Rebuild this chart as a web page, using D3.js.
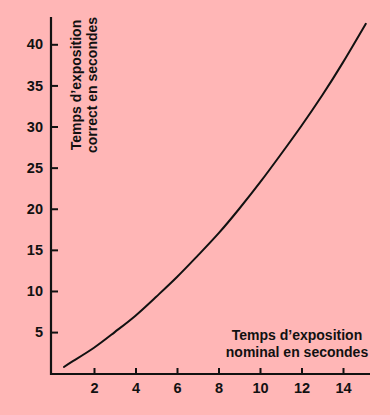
<!DOCTYPE html>
<html>
<head>
<meta charset="utf-8">
<script src="https://cdn.jsdelivr.net/npm/d3@7"></script>
<style>
  html, body { margin: 0; padding: 0; background: #ffb6b6; }
  svg { display: block; }
  text { font-family: "Liberation Sans", Arial, sans-serif; font-weight: bold; fill: #111; }
</style>
</head>
<body>
<svg id="chart" width="390" height="415"></svg>
<script>
const nominal = [0.55, 1, 2, 3, 4, 5, 6, 7, 8, 9, 10, 11, 12, 13, 14, 15.1];
const correct = [0.75, 1.5, 3.1, 5.0, 7.0, 9.3, 11.7, 14.3, 17.0, 20.0, 23.2, 26.6, 30.1, 33.8, 37.8, 42.5];
const xTicks = [2, 4, 6, 8, 10, 12, 14];
const yTicks = [5, 10, 15, 20, 25, 30, 35, 40];
const xTitle = ["Temps d\u2019exposition", "nominal en secondes"];
const yTitle = ["Temps d\u2019exposition", "correct en secondes"];

const svg = d3.select("#chart");
svg.append("rect").attr("width", 390).attr("height", 415).attr("fill", "#ffb6b6");

const x = d3.scaleLinear().domain([0, 14]).range([52.5, 343]);
const y = d3.scaleLinear().domain([0, 40]).range([373.2, 44.3]);

const axisX = 51, axisY = 374;

// Y axis
const gy = svg.append("g").attr("transform", `translate(${axisX},0)`)
  .call(d3.axisLeft(y).tickValues(yTicks).tickSizeInner(-7).tickSizeOuter(0).tickPadding(8));
gy.select(".domain").remove();
gy.selectAll(".tick line").attr("stroke", "#111").attr("stroke-width", 2);
gy.selectAll(".tick text").style("font-size", "14.5px").attr("fill", "#111");
svg.append("line").attr("x1", axisX).attr("x2", axisX).attr("y1", 17).attr("y2", axisY + 1)
  .attr("stroke", "#111").attr("stroke-width", 2.2);

// X axis
const gx = svg.append("g").attr("transform", `translate(0,${axisY})`)
  .call(d3.axisBottom(x).tickValues(xTicks).tickSizeInner(-6).tickSizeOuter(0).tickPadding(9));
gx.select(".domain").remove();
gx.selectAll(".tick line").attr("stroke", "#111").attr("stroke-width", 2);
gx.selectAll(".tick text").style("font-size", "14.5px").attr("fill", "#111");
svg.append("line").attr("x1", axisX - 1).attr("x2", 370).attr("y1", axisY).attr("y2", axisY)
  .attr("stroke", "#111").attr("stroke-width", 2.2);

// Curve
const pts = nominal.map((d, i) => [d, correct[i]]);
svg.append("path").datum(pts)
  .attr("fill", "none").attr("stroke", "#111").attr("stroke-width", 2)
  .attr("stroke-linecap", "round")
  .attr("d", d3.line().x(d => x(d[0])).y(d => y(d[1])).curve(d3.curveNatural));

// X title
xTitle.forEach((t, i) => {
  svg.append("text").attr("x", 297).attr("y", 340 + i * 16.7)
    .attr("text-anchor", "middle").style("font-size", "14px").text(t);
});
// Y title
yTitle.forEach((t, i) => {
  svg.append("text").attr("transform", `translate(${80.5 + i * 16.7},85) rotate(-90)`)
    .attr("text-anchor", "middle").style("font-size", "14px").text(t);
});
</script>
</body>
</html>
